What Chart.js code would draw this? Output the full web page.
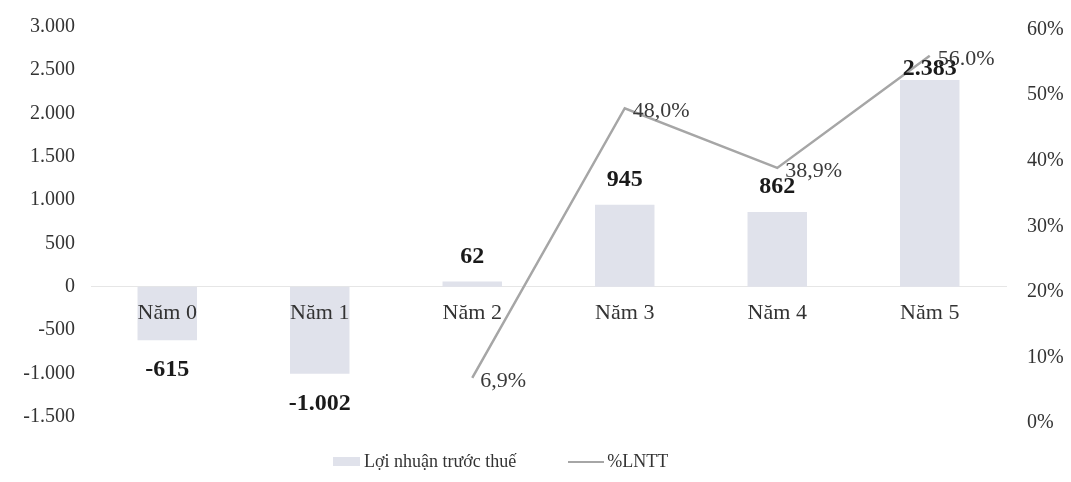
<!DOCTYPE html>
<html>
<head>
<meta charset="utf-8">
<script src="https://cdn.jsdelivr.net/npm/chart.js@4.4.0/dist/chart.umd.min.js"></script>
<style>
  html, body { margin: 0; padding: 0; background: #fff; overflow: hidden; }
  #wrap { width: 1071px; height: 482px; position: relative; }
  #legend {
    position: absolute; left: 333px; top: 451px;
    display: flex; align-items: center;
    font: 18px "Liberation Serif", "Times New Roman", serif; color: #333;
  }
  #legend .box { width: 27px; height: 9px; background: #e0e2eb; margin-right: 4px; }
  #legend .line { width: 36px; height: 2px; background: #a6a6a6; margin-left: 52px; margin-right: 3px; }
</style>
</head>
<body>
<div id="wrap">
  <canvas id="myChart"></canvas>
  <div id="legend"></div>
</div>
<script>
var years = ['Năm 0', 'Năm 1', 'Năm 2', 'Năm 3', 'Năm 4', 'Năm 5'];
var profit = [-615, -1002, 62, 945, 862, 2383];
var ratio = [null, null, 6.9, 48.0, 38.9, 56.0];
var ratioLabels = [null, null, '6,9%', '48,0%', '38,9%', '56.0%'];
var leftTicks = [-1500, -1000, -500, 0, 500, 1000, 1500, 2000, 2500, 3000];
var rightTicks = [0, 10, 20, 30, 40, 50, 60];
var seriesNames = ['Lợi nhuận trước thuế', '%LNTT'];

var serif = '"Liberation Serif", "Times New Roman", serif';

function fmt(v) {
    var s = String(Math.abs(v)).replace(/\B(?=(\d{3})+(?!\d))/g, '.');
    return v < 0 ? '-' + s : s;
}

// value labels for bars and line points
var valueLabels = {
    id: 'valueLabels',
    afterDatasetsDraw: function(chart) {
        var ctx = chart.ctx;
        var linePts = chart.getDatasetMeta(1).data;
        ctx.save();
        ctx.textBaseline = 'middle';
        ctx.font = 'bold 24px ' + serif;
        ctx.fillStyle = '#1a1a1a';
        ctx.textAlign = 'center';
        chart.getDatasetMeta(0).data.forEach(function(bar, i) {
            var v = profit[i];
            var y;
            if (v >= 0) {
                y = bar.y - 25;
                // sit closer to the bar when the line point is in the way
                if (ratio[i] !== null && linePts[i].y > y - 12 && linePts[i].y < bar.y) {
                    y = bar.y - 11;
                }
            } else {
                y = bar.y + 30;
            }
            ctx.fillText(fmt(v), bar.x, y);
        });
        ctx.font = '22px ' + serif;
        ctx.fillStyle = '#3a3a3a';
        ctx.textAlign = 'left';
        linePts.forEach(function(pt, i) {
            if (ratio[i] === null) return;
            ctx.fillText(ratioLabels[i], pt.x + 8, pt.y + 3);
        });
        ctx.restore();
    }
};

var ctx = document.getElementById('myChart').getContext('2d');
var myChart = new Chart(ctx, {
    type: 'bar',
    data: {
        labels: years,
        datasets: [{
            label: seriesNames[0],
            data: profit,
            backgroundColor: '#e0e2eb',
            borderWidth: 0,
            barPercentage: 0.39,
            categoryPercentage: 1,
            yAxisID: 'y',
            order: 1
        }, {
            type: 'line',
            label: seriesNames[1],
            data: ratio,
            borderColor: '#a6a6a6',
            borderWidth: 2.5,
            pointRadius: 0,
            tension: 0,
            yAxisID: 'y1',
            order: 0
        }]
    },
    options: {
        responsive: true,
        maintainAspectRatio: false,
        animation: false,
        layout: {
            padding: { top: 11, bottom: 58, left: 0, right: 0 }
        },
        plugins: {
            legend: { display: false },
            tooltip: { enabled: false }
        },
        scales: {
            x: {
                position: { y: 0 },
                grid: { display: false },
                border: { color: '#e6e6e6', width: 1 },
                ticks: {
                    z: 1,
                    color: '#333',
                    padding: 5,
                    font: { family: serif, size: 22 }
                }
            },
            y: {
                position: 'left',
                min: -1581,
                max: 3017,
                grid: { display: false },
                border: { display: false },
                afterBuildTicks: function(scale) {
                    scale.ticks = leftTicks.map(function(v) { return { value: v }; });
                },
                afterFit: function(scale) { scale.width = 91; },
                ticks: {
                    color: '#333',
                    padding: 8,
                    font: { family: serif, size: 20 },
                    callback: function(v) { return fmt(v); }
                }
            },
            y1: {
                position: 'right',
                min: -0.15,
                max: 60.69,
                grid: { display: false },
                border: { display: false },
                afterBuildTicks: function(scale) {
                    scale.ticks = rightTicks.map(function(v) { return { value: v }; });
                },
                afterFit: function(scale) { scale.width = 65; },
                ticks: {
                    color: '#333',
                    padding: 13,
                    font: { family: serif, size: 20 },
                    callback: function(v) { return v + '%'; }
                }
            }
        }
    },
    plugins: [valueLabels]
});

// legend as html text
var legend = document.getElementById('legend');
legend.innerHTML = '<span class="box"></span><span>' + seriesNames[0] + '</span>' +
    '<span class="line"></span><span>' + seriesNames[1] + '</span>';
</script>
</body>
</html>
